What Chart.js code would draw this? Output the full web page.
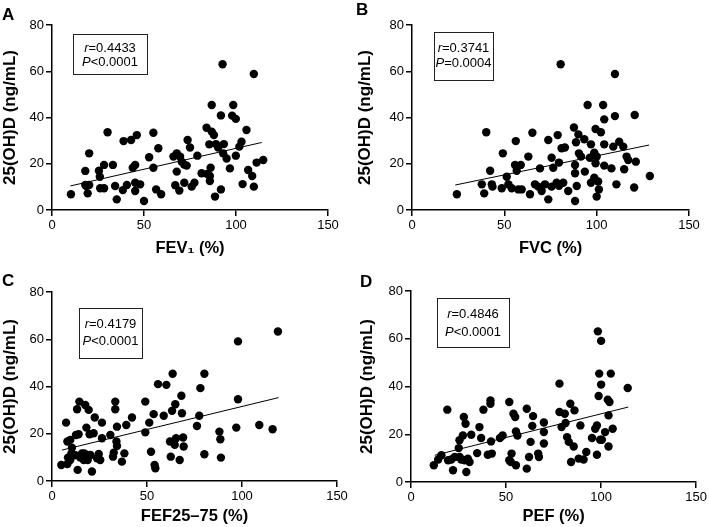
<!DOCTYPE html>
<html>
<head>
<meta charset="utf-8">
<script src="https://cdn.jsdelivr.net/npm/chart.js@4/dist/chart.umd.min.js"></script>
<style>
  html, body { margin: 0; padding: 0; background: #fff; }
  #wrap { position: relative; width: 709px; height: 527px; overflow: hidden; }
  canvas { position: absolute; }
</style>
</head>
<body>
<div id="wrap">
  <canvas id="panelA" width="355" height="262" style="left:0;top:0"></canvas>
  <canvas id="panelB" width="354" height="262" style="left:355px;top:0"></canvas>
  <canvas id="panelC" width="355" height="265" style="left:0;top:262px"></canvas>
  <canvas id="panelD" width="354" height="265" style="left:355px;top:262px"></canvas>
</div>
<script>
// ---- data ----
const yTicks = [0, 20, 40, 60, 80];
const xTicks = [0, 50, 100, 150];

const fev1X = [10.3,18.1,20.2,18.1,18.6,19.4,20.2,25.5,26,26.2,28.3,28.3,30.2,33.1,34.3,35.2,38.5,38.9,40.7,43,43.9,45.2,46.1,45.2,45.2,47.9,50,52.8,55.1,55.1,56.6,57.8,59.3,66,67.8,67.8,67,69.2,69.6,70.5,71.8,73.2,71.9,73.7,75,75.9,77.4,79,81.3,84,84.4,85.8,86.2,85.8,86.8,86.8,85.5,88,88.6,89.1,90.3,91.8,91.8,92.7,93,93.4,94.9,96.7,98.5,97.9,99.9,99.9,101.8,103,103.6,105.7,106.6,108.8,109.7,109.7,111.2,114.8];
const fev1Y = [6.8,16.9,24.5,10.8,10.4,7.2,10.8,17,14.4,9.4,9.4,19.5,33.6,19.5,10.4,4.6,8.6,29.8,10.8,30.3,18.3,19.5,32.4,11.8,8.2,11.1,3.9,22.8,33.4,18.3,8.9,26.7,6.8,23.1,24.5,16.6,10.7,8.4,23.1,20.9,19.7,19.2,11.8,30.3,27,10.1,11.8,23.5,15.9,35.6,15.6,14.7,18.3,12.5,45.4,33.9,28.4,32.4,5.8,28.5,27,40.9,8.9,63,24.5,28.5,22.3,18,45.4,40.8,39.4,23.5,27.4,29.5,11.2,34.6,17.3,14.7,58.8,10.1,20.5,21.6];
const fev1FitX = [10, 114];
const fev1FitY = [10.4, 29.2];

const fvcX = [24.3,37.8,39.1,40.2,42.3,43.2,43.6,48.6,49.2,51.3,52.2,54,55.8,56.2,56.7,57.6,58.9,59.4,63,63.9,65.2,66.6,68.4,69.3,70.2,72,73.8,73.8,75.6,75.6,76.5,78.3,78.9,79.6,79.6,80.5,81,81.9,82.8,84.6,87.7,88.3,88.3,88.3,88.8,89.2,90.1,90.4,91.5,93.3,93.6,95.1,96.3,96.9,96.9,98.7,98.7,99.4,99.4,100,100,100.8,101.2,102.3,103.5,104.1,104.1,104.1,108,109,109.9,109.9,110.7,112.2,114.4,114.9,116.2,117.1,120.3,120.6,121.2,128.8];
const fvcY = [6.8,11.1,7.2,33.6,17,11.1,10.1,9.4,24.5,14.4,11.1,9.4,19.5,29.8,17,8.9,19.5,8.9,23.1,6.8,33.4,11.1,10.1,18,8.2,11.1,30.3,4.6,22.6,10.1,18.3,11.8,32.4,20.5,10.5,63,26.7,11.8,27,8.2,35.7,19.5,15.9,3.9,29.3,10.4,32.7,24.5,23.1,30.6,16.6,45.4,22.6,28.4,11.8,14,24.8,35,20.2,23.1,5.8,12.3,8.9,33.6,45.4,39.2,28.4,19.2,18,27.4,40.6,58.8,11.1,29.5,27.4,17.6,23.1,21.6,9.7,41.1,20.9,14.7];
const fvcFitX = [23.4, 128.4];
const fvcFitY = [10.8, 28.1];

const fefX = [4.9,7.4,8.1,8.4,8.1,9.6,10.2,10.5,9.6,12.3,12.6,13.2,13.5,14,14.4,14.9,15.8,16.7,17,17.5,18.1,18.4,18.8,19.3,19.8,20.2,21,21.9,22.5,23.7,24.6,25.4,26.3,26.3,30.7,32.1,32.5,33.3,33.3,33.9,34.2,34.2,36.8,38.1,39.1,42.1,49.1,49.1,51.2,52.1,53.5,54,54.4,55.8,58.8,60.2,62.1,62.5,63.2,63.5,64.6,64.9,65.3,67.2,68.1,68.4,69,69.3,76.3,77.5,78.1,80.2,80.2,88.1,88.6,88.9,97,97.9,97.9,109.1,116.1,118.9];
const fefY = [6.8,24.7,16.7,9.9,7.2,17.4,11.7,14.1,8.9,10.9,19.5,30.4,4.7,19.8,33.6,9.9,11.7,8.9,11.7,32.2,22.6,11,8.9,30.1,19.8,11,4,20.2,26.9,9.6,11.4,8.9,24.7,18.1,19.5,10.3,12,33.6,30.4,16.7,14.8,23,8.2,11.7,23.7,26.9,33.6,20.6,24.7,12.4,28.3,6.8,5.4,41,27.6,40.7,16.7,10.3,29.7,45.4,15.3,32.5,18.1,8.9,36.1,28.7,18.4,14.6,23.3,27.6,39.3,45.4,11.3,20.9,17.7,9.9,22.6,59.1,34.6,23.7,21.9,63.3];
const fefFitX = [5.3, 119.3];
const fefFitY = [13.1, 35.3];

const pefX = [12,14.3,16,19.1,19.5,21.2,22.1,23,25.5,25.1,25.6,26.4,27.3,27.8,28.7,28.2,29.1,29.9,30.8,31.7,34.8,36,36.9,38.1,40.4,41.8,41.8,42.1,42.5,46.8,48.2,51.7,51.7,52.9,52.5,53.9,54.8,55.2,55.2,56,60.9,60.9,62.1,62.9,63.8,64.2,66.9,67.3,69.9,69.9,69.9,78.1,78.1,79.2,80.9,81.3,82.1,83,83.8,84.2,85.6,86,88.2,89.1,90.8,92.2,95.2,96.9,97.8,97.8,98.3,98.7,99,99.5,100,100,100.4,102.1,103.5,103.9,103.9,104.4,105.1,106.1,114];
const pefY = [7,9.4,11.2,30.3,9.1,9.4,4.9,10.5,17.5,14.2,10.5,9.4,19.5,27.2,24.4,9.1,4.2,9.8,8.4,19.8,12.1,23,18.4,30.3,11.4,32.8,34.2,17,11.9,18.4,19.5,33.5,9.1,11.9,8.4,28.6,27.2,21.2,7,19.5,30.7,5.6,10.5,16.8,23.5,27.6,11.9,10.5,24.9,20.9,16.1,41.2,29.3,23,28.6,24.7,18.8,16.8,32.8,8.4,14.9,30,9.8,23.7,9.4,12.6,18.4,22.3,23.7,11.4,63.1,36,45.4,17.7,40.8,59.1,17.7,20.9,34.5,27.9,14.9,33.5,45.4,22.3,39.4];
const pefFitX = [12.5, 114.3];
const pefFitY = [11.2, 31.4];

const panelLetters = ["A", "B", "C", "D"];
const xTitles = ["FEV\u2081 (%)", "FVC (%)", "FEF25\u201375 (%)", "PEF (%)"];
const yTitle = "25(OH)D (ng/mL)";
const statR = ["0.4433", "0.3741", "0.4179", "0.4846"];
const statP = ["<0.0001", "=0.0004", "<0.0001", "<0.0001"];

// ---- drawing ----
const FONT = '"Liberation Sans", Arial, Helvetica, sans-serif';
Chart.defaults.font.family = FONT;
Chart.defaults.color = "#000";

function zip(xs, ys) {
    return xs.map((x, i) => ({ x: x, y: ys[i] }));
}

// stats box + panel letter, in canvas pixels
const statsBox = {
    id: "statsBox",
    afterDraw(chart, args, o) {
        const ctx = chart.ctx;
        ctx.save();
        ctx.strokeStyle = "#222";
        ctx.lineWidth = 1;
        ctx.strokeRect(o.box[0] + 0.5, o.box[1] + 0.5, o.box[2], o.box[3]);
        const cx = o.box[0] + o.box[2] / 2;
        const lines = [["r", "=" + o.r, o.ty[0]], ["P", o.p, o.ty[1]]];
        ctx.textBaseline = "middle";
        ctx.textAlign = "left";
        ctx.fillStyle = "#000";
        lines.forEach(l => {
            ctx.font = "italic 13px " + FONT;
            const w1 = ctx.measureText(l[0]).width;
            ctx.font = "13px " + FONT;
            const w2 = ctx.measureText(l[1]).width;
            const x0 = cx - (w1 + w2) / 2;
            ctx.font = "italic 13px " + FONT;
            ctx.fillText(l[0], x0, l[2]);
            ctx.font = "13px " + FONT;
            ctx.fillText(l[1], x0 + w1, l[2]);
        });
        ctx.font = "bold 17px " + FONT;
        ctx.textBaseline = "alphabetic";
        ctx.fillText(o.letter, o.lx, o.ly);
        ctx.restore();
    }
};

function makePanel(id, i, pts, fit, L) {
    const ctx = document.getElementById(id).getContext("2d");
    const axisColor = "#000";
    return new Chart(ctx, {
        type: "scatter",
        data: {
            datasets: [
                { data: pts, backgroundColor: "#000", borderWidth: 0, pointRadius: 4.2, pointHoverRadius: 4.2 },
                { data: fit, showLine: true, borderColor: "#000", borderWidth: 1, pointRadius: 0, fill: false }
            ]
        },
        options: {
            responsive: false,
            animation: false,
            events: [],
            layout: { padding: { top: L.padTop, right: L.padRight, left: 0, bottom: 0 } },
            plugins: {
                legend: { display: false },
                tooltip: { enabled: false },
                statsBox: {
                    box: L.box, ty: L.ty, r: statR[i], p: statP[i],
                    letter: panelLetters[i], lx: L.letter[0], ly: L.letter[1]
                }
            },
            scales: {
                x: {
                    type: "linear", min: xTicks[0], max: xTicks[xTicks.length - 1],
                    afterBuildTicks: s => { s.ticks = xTicks.map(v => ({ value: v })); },
                    afterFit: s => { s.height = L.xH; },
                    ticks: { font: { size: 13 }, padding: 2, color: "#000", maxRotation: 0 },
                    grid: { drawOnChartArea: false, drawTicks: true, tickLength: 6, color: axisColor, lineWidth: 1.5 },
                    border: { color: axisColor, width: 1.5 },
                    title: { display: true, text: xTitles[i], font: { size: 16.5, weight: "bold" }, padding: { top: 0, bottom: L.xTitlePad } }
                },
                y: {
                    type: "linear", min: yTicks[0], max: yTicks[yTicks.length - 1],
                    afterBuildTicks: s => { s.ticks = yTicks.map(v => ({ value: v })); },
                    afterFit: s => { s.width = L.yW; },
                    ticks: { font: { size: 13 }, padding: 2, color: "#000" },
                    grid: { drawOnChartArea: false, drawTicks: true, tickLength: 6, color: axisColor, lineWidth: 1.5 },
                    border: { color: axisColor, width: 1.5 },
                    title: { display: true, text: yTitle, font: { size: 17, weight: "bold" }, padding: { top: L.yTitlePad, bottom: 0 } }
                }
            }
        },
        plugins: [statsBox]
    });
}

makePanel("panelA", 0, zip(fev1X, fev1Y), zip(fev1FitX, fev1FitY),
    { yW: 52, xH: 52, padTop: 25, padRight: 27, yTitlePad: 0, xTitlePad: 4, box: [73, 34, 74, 40], ty: [48, 62], letter: [2, 20] });
makePanel("panelB", 1, zip(fvcX, fvcY), zip(fvcFitX, fvcFitY),
    { yW: 57, xH: 52, padTop: 25, padRight: 20, yTitlePad: 0, xTitlePad: 4, box: [79, 32, 59, 48], ty: [48, 63], letter: [1, 15] });
makePanel("panelC", 2, zip(fefX, fefY), zip(fefFitX, fefFitY),
    { yW: 52, xH: 46, padTop: 30, padRight: 18, yTitlePad: 0, xTitlePad: 1, box: [79, 46, 63, 50], ty: [62, 79], letter: [2, 24] });
makePanel("panelD", 3, zip(pefX, pefY), zip(pefFitX, pefFitY),
    { yW: 56, xH: 45, padTop: 29, padRight: 11, yTitlePad: 2, xTitlePad: 1, box: [82, 36, 72, 49], ty: [52, 70], letter: [5, 25] });
</script>
</body>
</html>
